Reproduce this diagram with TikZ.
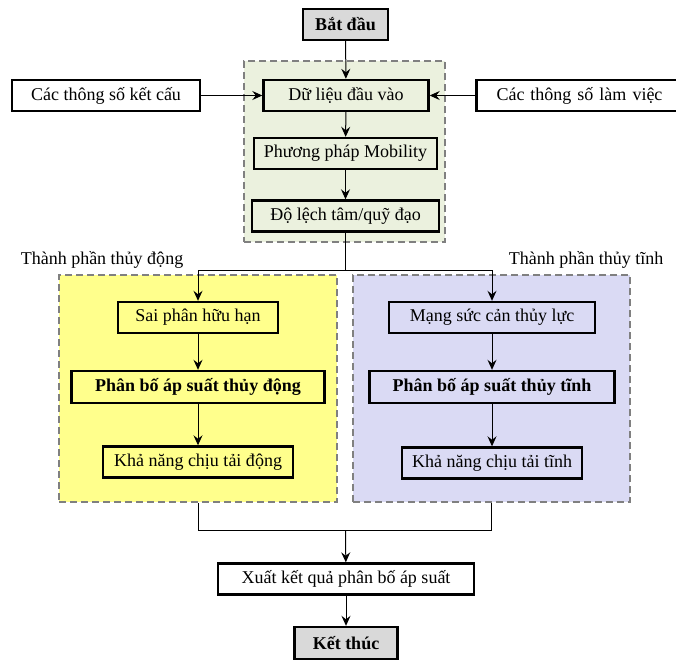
\documentclass[tikz,border=0pt]{standalone}
\usepackage{fontspec}
\setmainfont{Liberation Serif}
\usetikzlibrary{arrows.meta}
\definecolor{greenbg}{HTML}{EBF1DE}
\definecolor{yellowbg}{HTML}{FFFF8C}
\definecolor{purplebg}{HTML}{DADAF4}
\definecolor{graybg}{HTML}{D9D9D9}
\definecolor{dashgray}{HTML}{808080}
\begin{document}
\begin{tikzpicture}[x=1pt,y=-1pt,
  box/.style={draw=black, line width=2.4pt, rectangle, inner sep=0pt, minimum height=31pt, font=\fontsize{18}{21}\selectfont},
  boldbox/.style={box, font=\fontsize{18}{21}\selectfont\bfseries},
  group/.style={draw=dashgray, line width=2pt, dash pattern=on 7pt off 4pt, rectangle, inner sep=0pt},
  arr/.style={-{Stealth[length=10pt,width=9pt,inset=3.5pt]}, line width=1pt},
  conn/.style={line width=1pt},
  lab/.style={font=\fontsize{18}{21}\selectfont, inner sep=0pt}]
\useasboundingbox (0,0) rectangle (676,662);
\clip (0,0) rectangle (676,662);
% groups
\node[group, fill=greenbg, minimum width=201pt, minimum height=181pt] (gA) at (344.5,151.5) {};
\node[group, fill=yellowbg, minimum width=278pt, minimum height=227pt] (gY) at (198,388.5) {};
\node[group, fill=purplebg, minimum width=277pt, minimum height=227pt] (gP) at (491.5,388.5) {};
% top
\node[boldbox, fill=graybg, minimum width=85pt] (start) at (345.5,24.5) {Bắt đầu};
\node[box, fill=greenbg, minimum width=165pt] (input) at (346,95.5) {Dữ liệu đầu vào};
\node[box, fill=greenbg, minimum width=183pt] (mob) at (345.5,153.5) {Phương pháp Mobility};
\node[box, fill=greenbg, minimum width=187pt] (ecc) at (345.5,216) {Độ lệch tâm/quỹ đạo};
\node[box, fill=white, minimum width=188pt] (kc) at (106,95.5) {Các thông số kết cấu};
\node[box, fill=white, minimum width=203pt, text width=201pt, align=left] (lv) at (578,95.5) {\hspace*{19pt}Các thông số làm việc};
% labels
\node[lab] (labY) at (102,260) {Thành phần thủy động};
\node[lab] (labP) at (586,260) {Thành phần thủy tĩnh};
% left column
\node[box, fill=yellowbg, minimum width=160pt] (sai) at (198,317.5) {Sai phân hữu hạn};
\node[boldbox, fill=yellowbg, minimum width=253pt, minimum height=32pt] (pbd) at (198,387) {Phân bố áp suất thủy động};
\node[box, fill=yellowbg, minimum width=190pt] (knd) at (198,462) {Khả năng chịu tải động};
% right column
\node[box, fill=purplebg, minimum width=206pt] (mang) at (492,317.5) {Mạng sức cản thủy lực};
\node[boldbox, fill=purplebg, minimum width=245pt, minimum height=32pt] (pbt) at (492,387) {Phân bố áp suất thủy tĩnh};
\node[box, fill=purplebg, minimum width=180pt] (knt) at (492,463) {Khả năng chịu tải tĩnh};
% bottom
\node[box, fill=white, minimum width=256pt] (xuat) at (346,579) {Xuất kết quả phân bố áp suất};
\node[boldbox, fill=graybg, minimum width=103pt, minimum height=32pt] (end) at (346,643) {Kết thúc};
% connectors
\coordinate (hub) at (345.5,270.7);
\coordinate (bot) at (345.5,530.7);
\draw[arr] (start) -- (input);
\draw[arr] (kc) -- (input);
\draw[arr] (lv.west) -- (input);
\draw[arr] (input) -- (mob);
\draw[arr] (mob) -- (ecc);
\draw[conn] (ecc) -- (hub);
\draw[arr] (hub) -| (sai);
\draw[arr] (hub) -| (mang);
\draw[arr] (sai) -- (pbd);
\draw[arr] (pbd) -- (knd);
\draw[arr] (mang) -- (pbt);
\draw[arr] (pbt) -- (knt);
\draw[conn] (gY.south) |- (bot);
\draw[conn] (gP.south) |- (bot);
\draw[arr] (bot) -- (xuat);
\draw[arr] (xuat) -- (end);
\end{tikzpicture}
\end{document}
